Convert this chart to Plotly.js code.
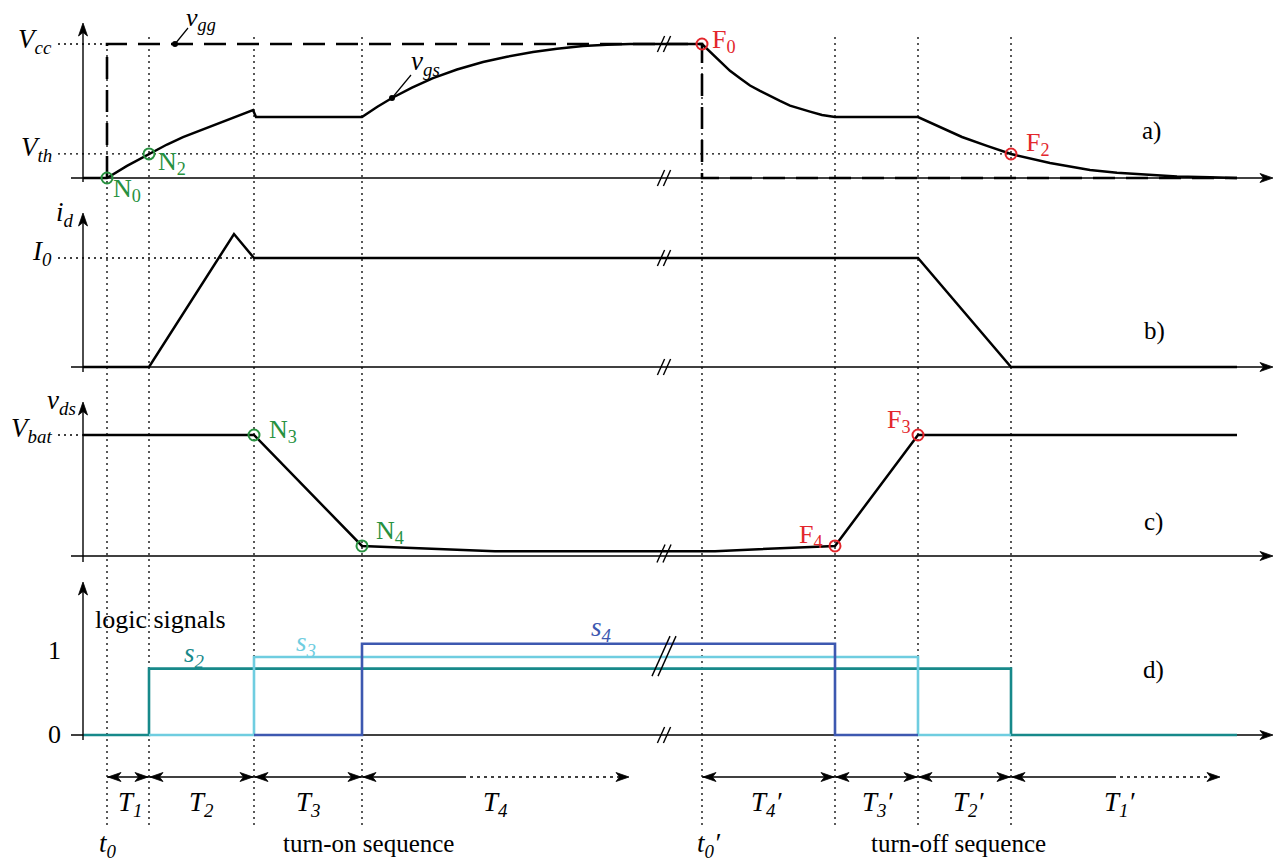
<!DOCTYPE html>
<html><head><meta charset="utf-8">
<script src="https://cdn.plot.ly/plotly-3.0.1.min.js"></script>
<style>html,body{margin:0;padding:0;background:#fff}#chart{width:1278px;height:862px}</style>
</head><body><div id="chart"></div>
<script>
// ---------- DATA (time in arbitrary units, t0 = 0) ----------
const eventTimes = [0, 4.2, 14.7, 25.5, 59.5, 72.8, 81.1, 90.4];
const axisTime = -2.4;
const breakTime = 55.8;
const endTime = 113;

// a) gate voltages, normalised to Vcc
const Vth = 0.18;
const vggT = [0, 0, 59.5, 59.5, 113];
const vggV = [0, 1, 1, 0, 0];
const vgsT = [-2.4, 0, 2, 4.2, 6, 7.6, 9.3, 11, 12.8, 14.6, 14.9, 25.5,
  27, 28.5, 30.5, 32.6, 35, 37.6, 40, 42.6, 45, 47.6, 50, 52.3, 59.5,
  60.2, 60.8, 61.5, 62.3, 63.3, 64.3, 65.3, 66.3, 67.3, 68.3, 69.3, 70.3, 71.5, 72.8, 81.1,
  83.3, 85.5, 88, 90.4, 94.3, 98.3, 101, 104.3, 107, 110.3, 113];
const vgsV = [0, 0, 0.09, 0.18, 0.25, 0.305, 0.355, 0.40, 0.455, 0.507, 0.455, 0.455,
  0.53, 0.597, 0.675, 0.746, 0.81, 0.866, 0.905, 0.94, 0.965, 0.985, 0.995, 1, 1,
  0.95, 0.90, 0.85, 0.80, 0.745, 0.69, 0.65, 0.61, 0.575, 0.54, 0.515, 0.495, 0.47, 0.455, 0.455,
  0.38, 0.306, 0.24, 0.179, 0.112, 0.06, 0.04, 0.022, 0.012, 0.005, 0];
const leaderT = [6.8, 28.5];
const leaderV = [1, 0.597];
const nPointsAT = [0, 4.2], nPointsAV = [0, 0.18];
const fPointsAT = [59.5, 90.4], fPointsAV = [1, 0.179];

// b) drain current, normalised to I0
const idT = [-2.4, 4.2, 12.7, 14.7, 81.1, 90.4, 113];
const idV = [0, 0, 1.22, 1, 1, 0, 0];

// c) drain-source voltage, normalised to Vbat
const vdsT = [-2.4, 14.7, 25.5, 38.8, 60.8, 72.8, 81.1, 113];
const vdsV = [1, 1, 0.083, 0.04, 0.04, 0.083, 1, 1];
const nPointsCT = [14.7, 25.5], nPointsCV = [1, 0.083];
const fPointsCT = [81.1, 72.8], fPointsCV = [1, 0.083];

// d) logic signals
const s2T = [-2.4, 4.2, 4.2, 90.4, 90.4, 113], s2V = [0, 0, 1, 1, 0, 0];
const s3T = [4.2, 14.7, 14.7, 81.1, 81.1, 90.4], s3V = [0, 0, 1, 1, 0, 0];
const s4T = [14.7, 25.5, 25.5, 72.8, 72.8, 81.1], s4V = [0, 0, 1, 1, 0, 0];

const intervalLabels = ['T<sub>1</sub>', 'T<sub>2</sub>', 'T<sub>3</sub>', 'T<sub>4</sub>',
  'T<sub>4</sub>\u2032', 'T<sub>3</sub>\u2032', 'T<sub>2</sub>\u2032', 'T<sub>1</sub>\u2032'];

// ---------- STYLE / LAYOUT HELPERS ----------
const W = 1278, H = 862;
const X = px => (px - 107) / 10;        // pixel -> time
const P = py => 1 - py / H;             // pixel -> paper y
const PX = px => px / W;
const FONT = "'Liberation Serif', 'DejaVu Serif', serif";
const GREEN = '#27913f', RED = '#e3262c';
const C2 = '#17898a', C3 = '#6fcde0', C4 = '#3d58b0';
const levelScale = {s2: 0.8, s3: 0.94, s4: 1.1};

const wf = {color: '#000', width: 2.5};
const traces = [
  {x: vggT, y: vggV, yaxis: 'y', mode: 'lines', line: {color: '#000', width: 2.6, dash: '22px,11px'}},
  {x: vgsT, y: vgsV, yaxis: 'y', mode: 'lines', line: wf},
  {x: leaderT, y: leaderV, yaxis: 'y', mode: 'markers', marker: {color: '#000', size: 6}},
  {x: nPointsAT, y: nPointsAV, yaxis: 'y', mode: 'markers', marker: {symbol: 'circle-open', size: 11, color: GREEN, line: {width: 2, color: GREEN}}},
  {x: fPointsAT, y: fPointsAV, yaxis: 'y', mode: 'markers', marker: {symbol: 'circle-open', size: 11, color: RED, line: {width: 2, color: RED}}},
  {x: idT, y: idV, yaxis: 'y2', mode: 'lines', line: wf},
  {x: vdsT, y: vdsV, yaxis: 'y3', mode: 'lines', line: wf},
  {x: nPointsCT, y: nPointsCV, yaxis: 'y3', mode: 'markers', marker: {symbol: 'circle-open', size: 11, color: GREEN, line: {width: 2, color: GREEN}}},
  {x: fPointsCT, y: fPointsCV, yaxis: 'y3', mode: 'markers', marker: {symbol: 'circle-open', size: 11, color: RED, line: {width: 2, color: RED}}},
  {x: s2T, y: s2V.map(v => v * levelScale.s2), yaxis: 'y4', mode: 'lines', line: {color: C2, width: 2.6}},
  {x: s3T, y: s3V.map(v => v * levelScale.s3), yaxis: 'y4', mode: 'lines', line: {color: C3, width: 2.6}},
  {x: s4T, y: s4V.map(v => v * levelScale.s4), yaxis: 'y4', mode: 'lines', line: {color: C4, width: 2.6}}
];

// panel baselines (pixel rows) and unit heights
const panels = [
  {ax: 'y', base: 178, unit: 134, top: 23, bottom: 182},
  {ax: 'y2', base: 367, unit: 109, top: 213, bottom: 372},
  {ax: 'y3', base: 556, unit: 121, top: 402, bottom: 562},
  {ax: 'y4', base: 735, unit: 83, top: 582, bottom: 740}
];
const yrange = p => [(p.base - H) / p.unit, p.base / p.unit];

const shapes = [];
const BLK = '#000';
const dotLine = {color: BLK, width: 1.3, dash: '2px,4px'};
// arrowhead helpers (pixel-sized paths anchored at the tip)
const HEAD = {up: 'M0,0 L-4.5,-13 L0,-9.5 L4.5,-13 Z', right: 'M0,0 L-13,4.5 L-9.5,0 L-13,-4.5 Z', left: 'M0,0 L13,4.5 L9.5,0 L13,-4.5 Z'};
function head(dir, xref, x, yref, y) {
  shapes.push({type: 'path', xref: xref, yref: yref, xsizemode: 'pixel', ysizemode: 'pixel', xanchor: x, yanchor: y,
    path: HEAD[dir], fillcolor: BLK, line: {color: BLK, width: 0.8}});
}
// axes
panels.forEach(p => {
  shapes.push({type: 'line', xref: 'x', yref: 'paper', x0: axisTime, x1: axisTime, y0: P(p.bottom), y1: P(p.top + 3), line: {color: BLK, width: 1.4}});
  head('up', 'x', axisTime, 'paper', P(p.top));
  shapes.push({type: 'line', xref: 'x', yref: p.ax, x0: X(71), x1: X(1270), y0: 0, y1: 0, line: {color: BLK, width: 1.4}, layer: 'below'});
  head('right', 'x', X(1273), p.ax, 0);
});
// vertical event markers
eventTimes.forEach(t => {
  const top = (t === 0 || t === 59.5) ? 44 : 37;
  shapes.push({type: 'line', xref: 'x', yref: 'paper', x0: t, x1: t, y0: P(825), y1: P(top), line: dotLine, layer: 'below'});
});
// horizontal reference levels
const hd = {color: BLK, width: 1.3, dash: '2px,4px'};
shapes.push({type: 'line', xref: 'x', yref: 'y', x0: X(58), x1: 0, y0: 1, y1: 1, line: hd});
shapes.push({type: 'line', xref: 'x', yref: 'y', x0: X(58), x1: 90.4, y0: Vth, y1: Vth, line: hd, layer: 'below'});
shapes.push({type: 'line', xref: 'x', yref: 'y2', x0: X(58), x1: 14.7, y0: 1, y1: 1, line: hd, layer: 'below'});
shapes.push({type: 'line', xref: 'x', yref: 'y3', x0: X(58), x1: axisTime, y0: 1, y1: 1, line: hd, layer: 'below'});
// leader lines
shapes.push({type: 'line', xref: 'x', yref: 'y', xsizemode: 'pixel', ysizemode: 'pixel', xanchor: leaderT[0], yanchor: leaderV[0], x0: 0, y0: 0, x1: 13, y1: 16, line: {color: BLK, width: 1.2}});
shapes.push({type: 'line', xref: 'x', yref: 'y', xsizemode: 'pixel', ysizemode: 'pixel', xanchor: leaderT[1], yanchor: leaderV[1], x0: 0, y0: 0, x1: 19, y1: 23, line: {color: BLK, width: 1.2}});
// break marks
function brk(yref, level, half) {
  [-4, 2].forEach(dx => shapes.push({type: 'line', xref: 'x', yref: yref, xsizemode: 'pixel', ysizemode: 'pixel',
    xanchor: breakTime, yanchor: level, x0: dx - half * 0.45, y0: -half, x1: dx + half * 0.45, y1: half, line: {color: BLK, width: 1.4}}));
}
brk('y', 1, 8); brk('y', 0, 8);
brk('y2', 1, 8); brk('y2', 0, 8);
brk('y3', 0.02, 9);
brk('y4', 0.95, 20); brk('y4', 0, 8);
// interval arrows along the bottom
const ARW = P(777);
const seg = (a, b, dash) => shapes.push({type: 'line', xref: 'x', yref: 'paper', x0: a, x1: b, y0: ARW, y1: ARW,
  line: {color: BLK, width: 1.4, dash: dash || 'solid'}});
[[0, 1], [1, 2], [2, 3], [4, 5], [5, 6], [6, 7]].forEach(([a, b]) => {
  seg(eventTimes[a], eventTimes[b]);
  head('left', 'x', eventTimes[a] + 0.1, 'paper', ARW);
  head('right', 'x', eventTimes[b] - 0.1, 'paper', ARW);
});
[[3, X(463), X(629)], [7, X(1113), X(1220)]].forEach(([a, m, e]) => {
  seg(eventTimes[a], m);
  seg(m, e - 0.5, '3px,4px');
  head('left', 'x', eventTimes[a] + 0.1, 'paper', ARW);
  head('right', 'x', e, 'paper', ARW);
});

// ---------- TEXT ----------
const ann = [];
function label(text, px, py, size, color, opts) {
  ann.push(Object.assign({xref: 'paper', yref: 'paper', x: PX(px), y: P(py), text: text, showarrow: false,
    xanchor: 'center', yanchor: 'middle', font: {family: FONT, size: size, color: color || '#000'}}, opts || {}));
}
const it = s => '<i>' + s + '</i>';
// a)
label(it('V<sub>cc</sub>'), 54, 41, 27, null, {xanchor: 'right'});
label(it('V<sub>th</sub>'), 54, 149, 27, null, {xanchor: 'right'});
label(it('v<sub>gg</sub>'), 201, 19, 26);
label(it('v<sub>gs</sub>'), 425, 63, 27);
label('N<sub>0</sub>', 127, 190, 26, GREEN);
label('N<sub>2</sub>', 172, 163, 26, GREEN);
label('F<sub>0</sub>', 724, 41, 26, RED);
label('F<sub>2</sub>', 1038, 144, 26, RED);
label('a)', 1151, 131, 25);
// b)
label(it('i<sub>d</sub>'), 65, 214, 27);
label(it('I<sub>0</sub>'), 54, 253, 27, null, {xanchor: 'right'});
label('b)', 1154, 331, 25);
// c)
label(it('v<sub>ds</sub>'), 61, 402, 27);
label(it('V<sub>bat</sub>'), 54, 430, 27, null, {xanchor: 'right'});
label('N<sub>3</sub>', 283, 431, 26, GREEN);
label('N<sub>4</sub>', 390, 532, 26, GREEN);
label('F<sub>4</sub>', 811, 536, 26, RED);
label('F<sub>3</sub>', 899, 421, 26, RED);
label('c)', 1153, 522, 25);
// d)
label('logic signals', 160, 619, 26);
label('1', 54, 650, 26);
label('0', 54, 734, 26);
label(it('s<sub>2</sub>'), 194, 655, 27, C2);
label(it('s<sub>3</sub>'), 306, 644, 27, C3);
label(it('s<sub>4</sub>'), 601, 629, 27, C4);
label('d)', 1153, 670, 25);
// interval labels
const labelX = [130, 201, 308, 495, 766, 877, 968, 1119];
intervalLabels.forEach((s, i) => label(it(s), labelX[i], 804, 27));
label(it('t<sub>0</sub>'), 108, 845, 27);
label(it('t<sub>0</sub>\u2032'), 709, 845, 27);
label('turn-on sequence', 368, 843, 25);
label('turn-off sequence', 959, 843, 25);

const hidden = {visible: false, fixedrange: true};
const layout = {
  width: W, height: H, margin: {l: 0, r: 0, t: 0, b: 0},
  paper_bgcolor: '#fff', plot_bgcolor: '#fff', showlegend: false,
  xaxis: Object.assign({range: [X(0), X(W)], domain: [0, 1]}, hidden),
  yaxis: Object.assign({range: yrange(panels[0])}, hidden),
  yaxis2: Object.assign({range: yrange(panels[1]), overlaying: 'y'}, hidden),
  yaxis3: Object.assign({range: yrange(panels[2]), overlaying: 'y'}, hidden),
  yaxis4: Object.assign({range: yrange(panels[3]), overlaying: 'y'}, hidden),
  shapes: shapes, annotations: ann,
  font: {family: FONT}
};
Plotly.newPlot('chart', traces, layout, {staticPlot: true, displayModeBar: false});
</script></body></html>
